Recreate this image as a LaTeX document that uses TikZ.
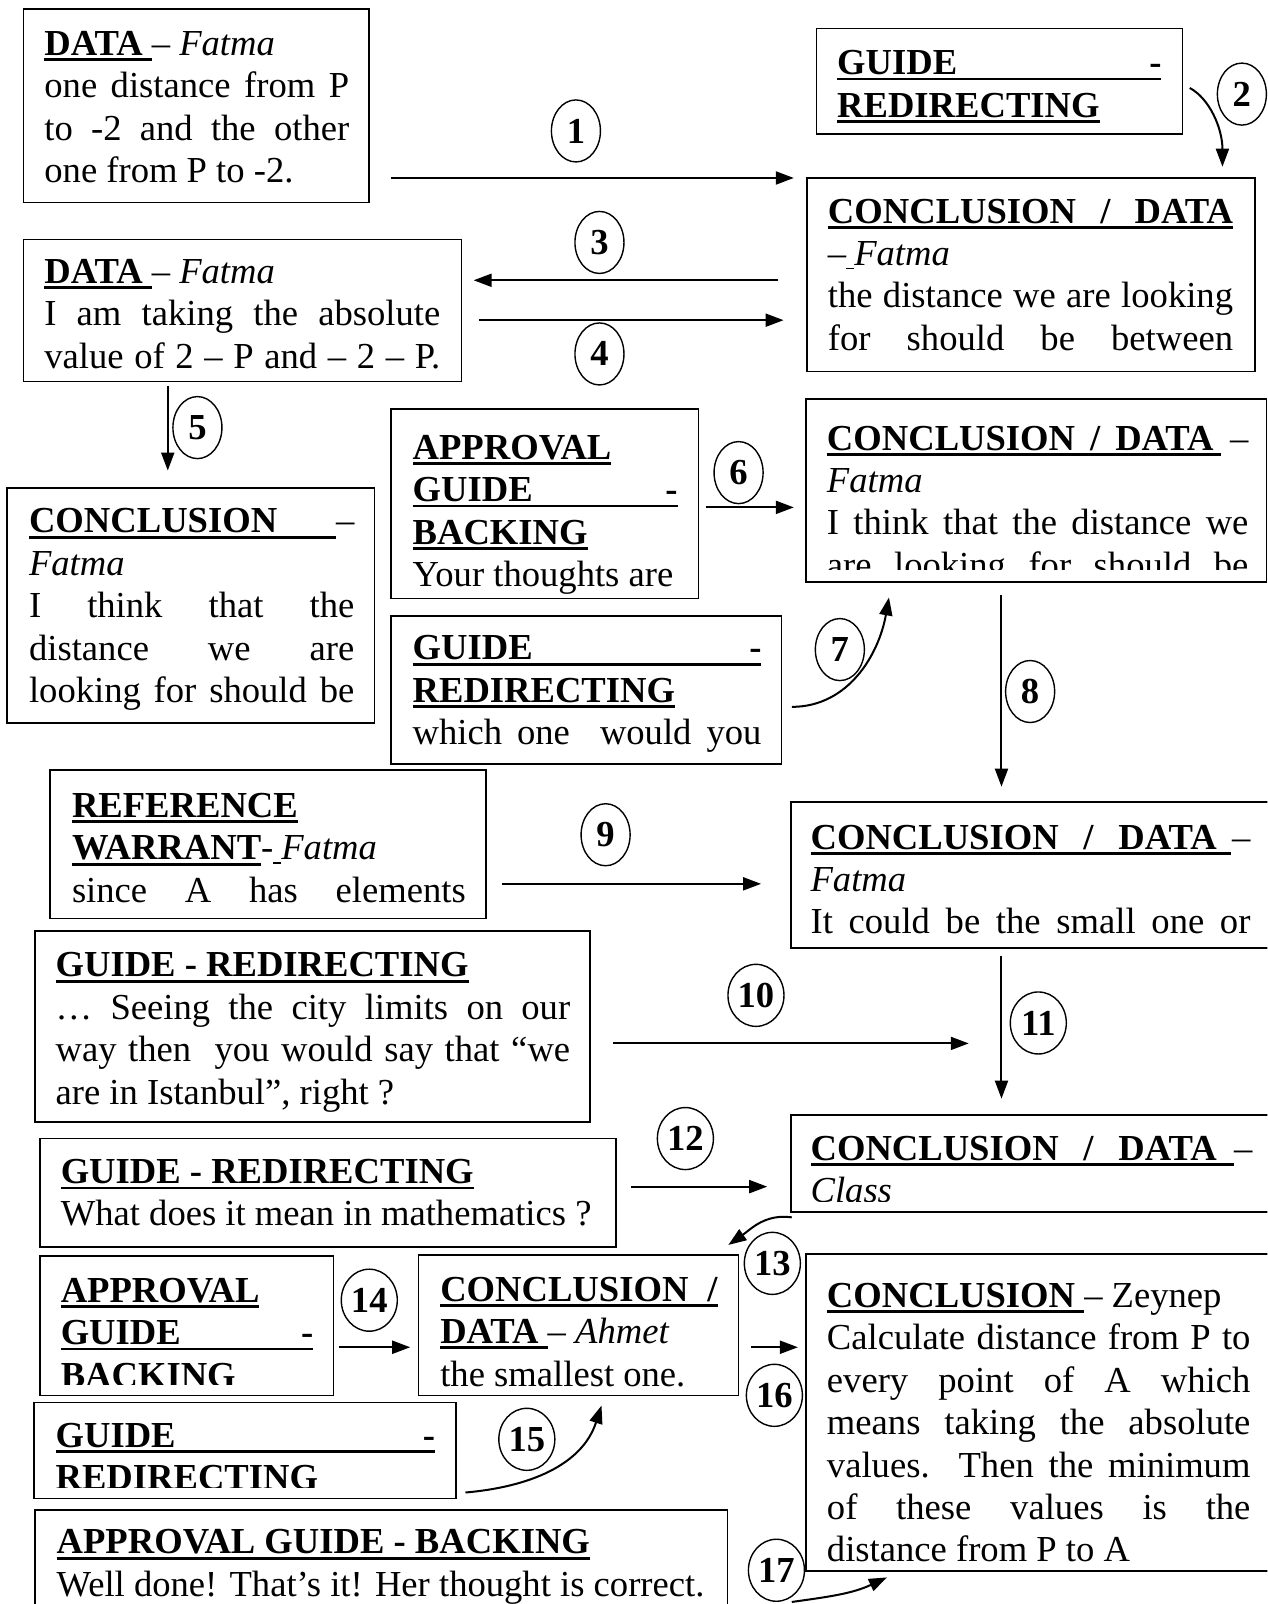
\documentclass[tikz,border=0pt]{standalone}
\usepackage{fontspec}
\setmainfont{Liberation Serif}
\usetikzlibrary{arrows.meta,fit,shapes.geometric}
\newlength\pxu
\setlength\pxu{0.5113pt}
\newcommand\jl[1]{\makebox[\linewidth][s]{#1}}
\newcommand\myul[1]{\leavevmode\vtop{\hbox{#1}\kern1.3pt\hrule height 1.4pt}}
\newcommand\myuls[1]{\leavevmode\vtop{\hbox{#1}\kern1.3pt\hrule height 0.6pt}}
\newcommand\btext[5]{\node[txt] (#1) at (#2,#3) {\parbox[t]{#4\pxu}{#5}};}
\begin{document}
\begin{tikzpicture}[x=0.5113pt,y=-0.5113pt,
  box/.style={draw,line width=0.8pt,inner sep=0pt},
  txt/.style={anchor=base west,inner sep=0pt,font=\fontsize{18.3pt}{21.2pt}\selectfont},
  num/.style={draw,ellipse,line width=0.7pt,minimum width=24.5pt,minimum height=31pt,inner sep=0pt,font=\fontsize{18.3pt}{21.2pt}\selectfont\bfseries},
  numw/.style={num,minimum width=28pt},
  arr/.style={line width=1pt,-{Triangle[length=9pt,width=6.5pt]}}]
\useasboundingbox (0,0) rectangle (1239,1568);
\clip (0,0) rectangle (1239,1568);

% ---------- boxes ----------
\node[box,fit={(23,9) (361,198)}] (A) {};
\node[box,fit={(798,28) (1156,131)}] (B) {};
\node[box,fit={(789,174) (1227,363)}] (C) {};
\node[box,fit={(23,234) (451,373)}] (D) {};
\node[box,fit={(7,477) (366,707)}] (E) {};
\node[box,fit={(382,400) (683,585)}] (F) {};
\node[box,fit={(788,390) (1238,569)}] (G) {};
\node[box,fit={(382,602) (764,747)}] (H) {};
\node[box,fit={(49,753) (475,898)}] (I) {};
\node[box,fit={(773,784) (1262,927)}] (J) {};
\node[box,fit={(34,910) (577,1097)}] (K) {};
\node[box,fit={(39,1113) (602,1219)}] (L) {};
\node[box,fit={(773,1090) (1262,1185)}] (M) {};
\node[box,fit={(39,1228) (326,1364)}] (N) {};
\node[box,fit={(409,1227) (722,1364)}] (O) {};
\node[box,fit={(788,1226) (1262,1536)}] (P) {};
\node[box,fit={(33,1371) (446,1465)}] (Q) {};
\node[box,fit={(34,1476) (711,1600)}] (R) {};

% ---------- texts ----------
\begin{scope}\clip (23,9) rectangle (361,198);
\btext{tA}{43}{54}{298}{\myul{\textbf{DATA }}– \textit{Fatma}\\ \jl{one distance from P}\\ \jl{to -2 and the other}\\ one from P to -2.}
\end{scope}
\begin{scope}\clip (798,28) rectangle (1156,131);
\btext{tB}{818}{73}{317}{\myul{\makebox[\linewidth][s]{\bfseries GUIDE -}}\\ \myul{\textbf{REDIRECTING}}}
\end{scope}
\begin{scope}\clip (789,174) rectangle (1227,363);
\btext{tC}{809}{218}{396}{\myul{\makebox[\linewidth][s]{\bfseries CONCLUSION / DATA}}\\ –\myuls{\hspace{4pt}}\textit{Fatma}\\ \jl{the distance we are looking}\\ \jl{for should be between}}
\end{scope}
\begin{scope}\clip (23,234) rectangle (451,373);
\btext{tD}{43}{277}{387}{\myul{\textbf{DATA }}– \textit{Fatma}\\ \jl{I am taking the absolute}\\ \jl{value of 2 – P and – 2 – P.}}
\end{scope}
\begin{scope}\clip (7,477) rectangle (366,700);
\btext{tE}{28}{521}{318}{\makebox[\linewidth][s]{\myul{\makebox[300\pxu][l]{\bfseries CONCLUSION}}\hfill –}\\ \textit{Fatma}\\ \jl{I think that the}\\ \jl{distance we are}\\ \jl{looking for should be}}
\end{scope}
\begin{scope}\clip (382,400) rectangle (683,585);
\btext{tF}{403}{449}{259}{\myul{\textbf{APPROVAL}}\\ \myul{\makebox[\linewidth][s]{\bfseries GUIDE -}}\\ \myul{\textbf{BACKING}}\\ Your thoughts are}
\end{scope}
\begin{scope}\clip (788,390) rectangle (1238,557);
\btext{tG}{808}{440}{412}{\makebox[\linewidth][s]{\myul{\makebox[378\pxu][s]{\bfseries CONCLUSION / DATA}\hspace{7\pxu}}\hfill –}\\ \textit{Fatma}\\ \jl{I think that the distance we}\\ \jl{are looking for should be}}
\end{scope}
\begin{scope}\clip (382,602) rectangle (764,747);
\btext{tH}{403}{645}{341}{\myul{\makebox[\linewidth][s]{\bfseries GUIDE -}}\\ \myul{\textbf{REDIRECTING}}\\ \jl{which one\ \ would you}}
\end{scope}
\begin{scope}\clip (49,753) rectangle (475,898);
\btext{tI}{70}{799}{385}{\myul{\textbf{REFERENCE}}\\ \myul{\textbf{WARRANT}}-\myuls{\hspace{4pt}}\textit{Fatma}\\ \jl{since A has elements}}
\end{scope}
\begin{scope}\clip (773,784) rectangle (1262,927);
\btext{tJ}{792}{830}{430}{\makebox[\linewidth][s]{\myul{\makebox[397\pxu][s]{\bfseries CONCLUSION / DATA}\hspace{14\pxu}}\hfill –}\\ \textit{Fatma}\\ \jl{It could be the small one or}}
\end{scope}
\begin{scope}\clip (34,910) rectangle (577,1097);
\btext{tK}{54}{955}{503}{\myul{\textbf{GUIDE - REDIRECTING}}\\ \jl{… Seeing the city limits on our}\\ \jl{way then\ \ you would say that “we}\\ are in Istanbul”, right ?}
\end{scope}
\begin{scope}\clip (39,1113) rectangle (602,1219);
\btext{tL}{59}{1157}{530}{\myul{\textbf{GUIDE - REDIRECTING}}\\ What does it mean in mathematics ?}
\end{scope}
\begin{scope}\clip (773,1090) rectangle (1262,1175);
\btext{tM}{792}{1134}{432}{\makebox[\linewidth][s]{\myul{\makebox[397\pxu][s]{\bfseries CONCLUSION / DATA}\hspace{17\pxu}}\hfill –}\\ \textit{Class}}
\end{scope}
\begin{scope}\clip (39,1228) rectangle (326,1353);
\btext{tN}{59}{1273}{247}{\myul{\textbf{APPROVAL}}\\ \myul{\makebox[\linewidth][s]{\bfseries GUIDE -}}\\ \myul{\textbf{BACKING}}}
\end{scope}
\begin{scope}\clip (409,1227) rectangle (722,1355);
\btext{tO}{430}{1272}{271}{\myul{\makebox[\linewidth][s]{\bfseries CONCLUSION /}}\\ \myul{\textbf{DATA }}– \textit{Ahmet}\\ the smallest one.}
\end{scope}
\begin{scope}\clip (788,1226) rectangle (1262,1536);
\btext{tP}{808}{1278}{414}{\myul{\textbf{CONCLUSION }}– Zeynep\\ \jl{Calculate distance from P to}\\ \jl{every point of A which}\\ \jl{means taking the absolute}\\ \jl{values. Then the minimum}\\ \jl{of these values is the}\\ distance from P to A}
\end{scope}
\begin{scope}\clip (33,1371) rectangle (446,1454);
\btext{tQ}{54}{1415}{371}{\myul{\makebox[\linewidth][s]{\bfseries GUIDE -}}\\ \myul{\textbf{REDIRECTING}}}
\end{scope}
\begin{scope}\clip (34,1476) rectangle (711,1600);
\btext{tR}{55}{1519}{640}{\myul{\textbf{APPROVAL GUIDE - BACKING}}\\ Well done! That’s it! Her thought is correct.}
\end{scope}

% ---------- step numbers ----------
\node[num] (c1) at (563,128) {1};
\node[num] (c2) at (1214,92) {2};
\node[num] (c3) at (586,237) {3};
\node[num] (c4) at (586,346) {4};
\node[num] (c5) at (193,418) {5};
\node[num] (c6) at (722,462) {6};
\node[num] (c7) at (821,635) {7};
\node[num] (c8) at (1007,676) {8};
\node[num] (c9) at (592,816) {9};
\node[numw] (c10) at (739,973) {10};
\node[numw] (c11) at (1015,1000) {11};
\node[numw] (c12) at (670,1113) {12};
\node[numw] (c13) at (755,1235) {13};
\node[numw] (c14) at (361,1271) {14};
\node[numw] (c15) at (515,1407) {15};
\node[numw] (c16) at (757,1364) {16};
\node[numw] (c17) at (759,1535) {17};

% ---------- connectors ----------
\coordinate (p1s) at (382,174);  \coordinate (p1e) at (776,174);
\coordinate (p2s) at (1163,86);  \coordinate (p2e) at (1195,163);
\coordinate (p3s) at (761,274);  \coordinate (p3e) at (463,274);
\coordinate (p4s) at (468,313);  \coordinate (p4e) at (766,313);
\coordinate (p5s) at (164,377);  \coordinate (p5e) at (164,460);
\coordinate (p6s) at (690,496);  \coordinate (p6e) at (776,496);
\coordinate (p7s) at (774,691);  \coordinate (p7e) at (869,584);
\coordinate (p8s) at (979,582);  \coordinate (p8e) at (979,769);
\coordinate (p9s) at (491,864);  \coordinate (p9e) at (744,864);
\coordinate (p10s) at (599,1020); \coordinate (p10e) at (947,1020);
\coordinate (p11s) at (979,935);  \coordinate (p11e) at (979,1074);
\coordinate (p12s) at (617,1160); \coordinate (p12e) at (750,1160);
\coordinate (p13s) at (774,1190); \coordinate (p13e) at (712,1217);
\coordinate (p14s) at (331,1317); \coordinate (p14e) at (401,1317);
\coordinate (p15s) at (455,1459); \coordinate (p15e) at (588,1374);
\coordinate (p16s) at (734,1317); \coordinate (p16e) at (780,1317);
\coordinate (p17s) at (774,1566); \coordinate (p17e) at (867,1542);

\draw[arr] (p1s) -- (p1e);
\draw[arr] (p2s) .. controls (1182,96) and (1195,125) .. (p2e);
\draw[arr] (p3s) -- (p3e);
\draw[arr] (p4s) -- (p4e);
\draw[arr] (p5s) -- (p5e);
\draw[arr] (p6s) -- (p6e);
\draw[arr] (p7s) to[out=0,in=-100] (p7e);
\draw[arr] (p8s) -- (p8e);
\draw[arr] (p9s) -- (p9e);
\draw[arr] (p10s) -- (p10e);
\draw[arr] (p11s) -- (p11e);
\draw[arr] (p12s) -- (p12e);
\draw[arr] (p13s) to[out=172,in=35] (p13e);
\draw[arr] (p14s) -- (p14e);
\draw[arr] (p15s) to[out=5,in=-108] (p15e);
\draw[arr] (p16s) -- (p16e);
\draw[arr] (p17s) to[out=8,in=205] (p17e);
\end{tikzpicture}
\end{document}
